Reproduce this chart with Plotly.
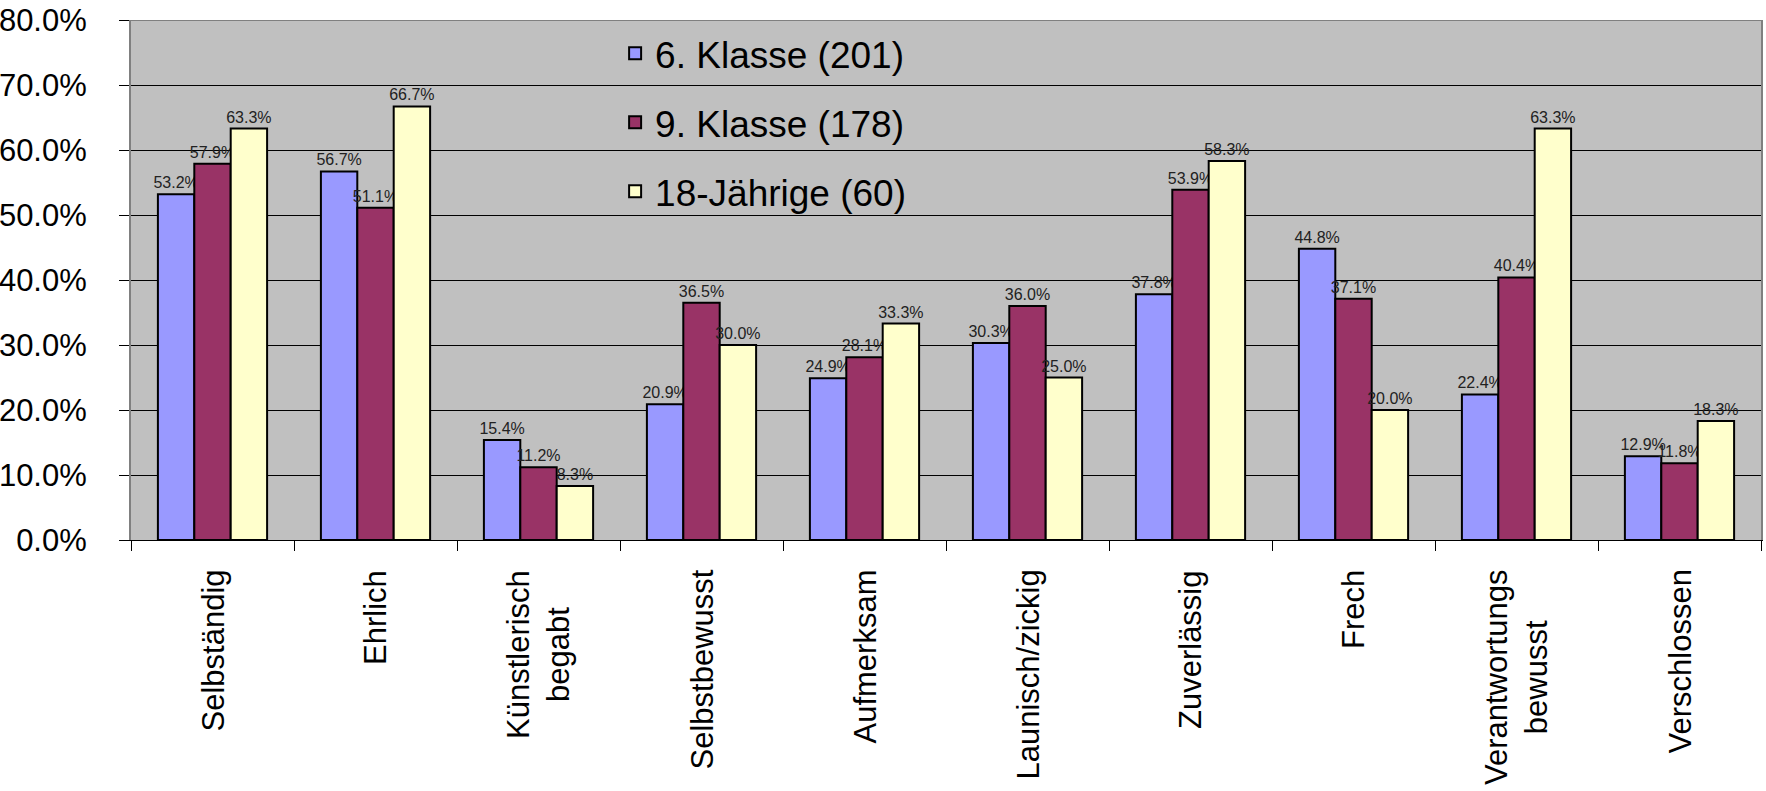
import plotly.graph_objects as go

categories = ["Selbständig", "Ehrlich", "Künstlerisch<br>begabt", "Selbstbewusst",
              "Aufmerksam", "Launisch/zickig", "Zuverlässig", "Frech",
              "Verantwortungs<br>bewusst", "Verschlossen"]
series_names = ["6. Klasse (201)", "9. Klasse (178)", "18-Jährige (60)"]
klasse6 = [53.2, 56.7, 15.4, 20.9, 24.9, 30.3, 37.8, 44.8, 22.4, 12.9]
klasse9 = [57.9, 51.1, 11.2, 36.5, 28.1, 36.0, 53.9, 37.1, 40.4, 11.8]
jaehrige18 = [63.3, 66.7, 8.3, 30.0, 33.3, 25.0, 58.3, 20.0, 63.3, 18.3]
colors = ["#9999FF", "#993366", "#FFFFCC"]
ytick_vals = [0, 10, 20, 30, 40, 50, 60, 70, 80]
ytick_text = ["0.0%", "10.0%", "20.0%", "30.0%", "40.0%", "50.0%", "60.0%", "70.0%", "80.0%"]

FONT = "Liberation Sans, Arial, sans-serif"

fig = go.Figure()
for i, (name, vals) in enumerate(zip(series_names, [klasse6, klasse9, jaehrige18])):
    fig.add_trace(go.Bar(
        x=categories, y=vals, name=name,
        marker=dict(color=colors[i], line=dict(color="black", width=2)),
        text=[f"{v:.1f}%" for v in vals],
        textposition="outside",
        constraintext="none",
        textfont=dict(family=FONT, size=16, color="#222222"),
        cliponaxis=False,
        legendgroup=f"g{i}",
    ))

for c in categories:
    fig.add_annotation(
        x=c, xref="x", y=0, yref="y", yshift=-28,
        text=c, textangle=-90, showarrow=False,
        xanchor="center", yanchor="top", align="center",
        font=dict(family=FONT, size=31, color="black"),
    )

fig.add_shape(type="line", xref="paper", x0=0, x1=1, yref="y", y0=80, y1=80,
              line=dict(color="#808080", width=2), layer="above")

fig.update_layout(
    width=1766, height=791,
    margin=dict(l=131, r=5, t=20, b=251),
    paper_bgcolor="white", plot_bgcolor="#C0C0C0",
    barmode="group", bargap=0.33, bargroupgap=0,
    font=dict(family=FONT, color="black"),
    showlegend=True,
    legend=dict(
        x=0.297, y=0.995, xanchor="left", yanchor="top",
        bgcolor="rgba(0,0,0,0)", font=dict(family=FONT, size=37, color="black"),
        tracegroupgap=18, traceorder="grouped",
    ),
    xaxis=dict(
        showticklabels=False, ticks="outside", ticklen=10, tickcolor="black",
        tickson="boundaries", showline=True, linecolor="black", linewidth=1,
        showgrid=False, zeroline=False, automargin=False,
    ),
    yaxis=dict(
        range=[0, 80], tickvals=ytick_vals, ticktext=ytick_text,
        ticks="outside", ticklen=10, tickcolor="black",
        tickfont=dict(family=FONT, size=31, color="black"),
        ticklabelstandoff=26, automargin=False,
        showgrid=True, gridcolor="black", gridwidth=1,
        showline=True, linecolor="#808080", linewidth=2, mirror=True,
        zeroline=False,
    ),
)

fig.write_html("out.html", config={"displayModeBar": False},
               post_script="document.body.style.margin='0px';")
